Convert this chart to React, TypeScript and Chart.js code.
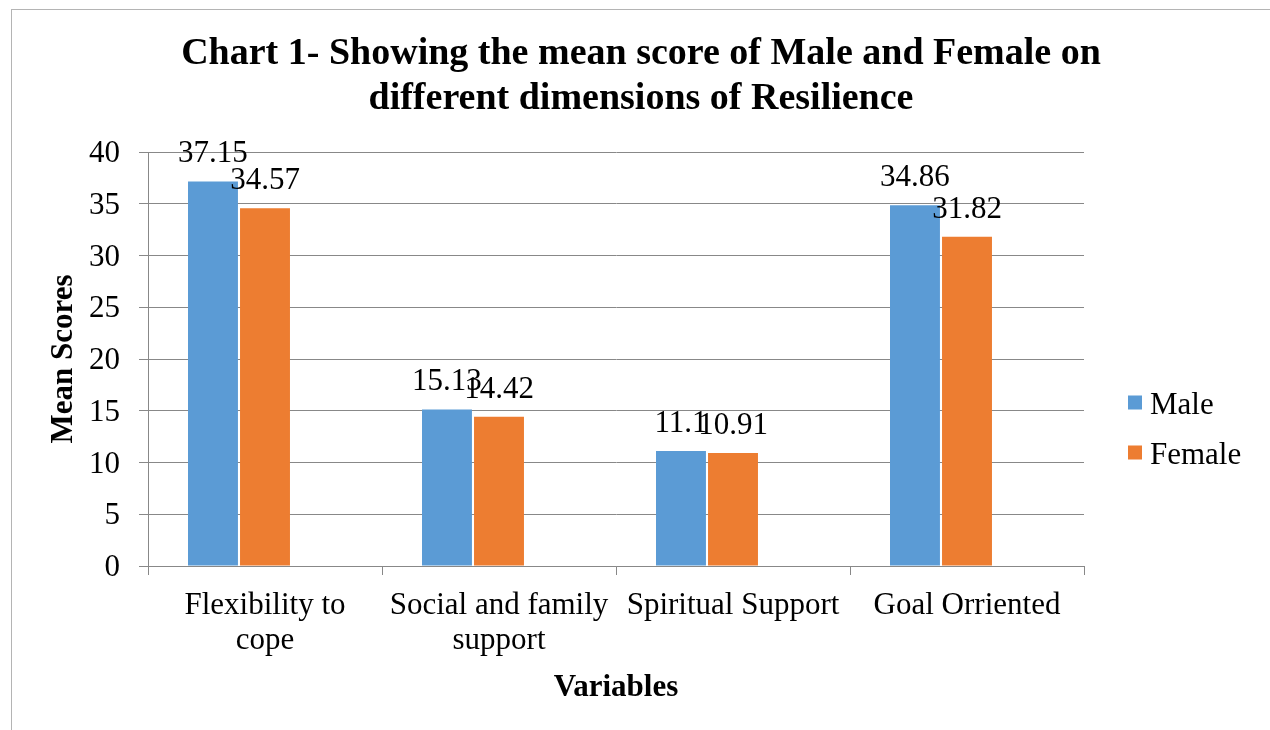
import React, { useEffect, useRef } from "react";
import { Chart, registerables } from "chart.js";

Chart.register(...registerables);

const SERIF = '"Liberation Serif", "Times New Roman", serif';

const titleLines = [
  "Chart 1- Showing the mean score of Male and Female on",
  "different dimensions of Resilience",
];
const categories: (string | string[])[] = [
  ["Flexibility to", "cope"],
  ["Social and family", "support"],
  "Spiritual Support",
  "Goal Orriented",
];
const seriesNames = ["Male", "Female"];
const maleValues = [37.15, 15.13, 11.1, 34.86];
const femaleValues = [34.57, 14.42, 10.91, 31.82];
const blankValues: (number | null)[] = [null, null, null, null];
const yMin = 0;
const yMax = 40;
const yStep = 5;
const xAxisTitle = "Variables";
const yAxisTitle = "Mean Scores";

const BLUE = "#5B9BD5";
const ORANGE = "#ED7D31";
const GRID = "#888888";

const overlayPlugin = {
  id: "overlay",
  afterDatasetsDraw(chart: any) {
    const ctx = chart.ctx;
    ctx.save();
    ctx.font = `31px ${SERIF}`;
    ctx.fillStyle = "#000";
    ctx.textAlign = "center";
    ctx.textBaseline = "alphabetic";
    [0, 1].forEach((di) => {
      const meta = chart.getDatasetMeta(di);
      const data = chart.data.datasets[di].data;
      meta.data.forEach((el: any, i: number) => {
        const v = data[i];
        if (v == null) return;
        ctx.fillText(String(v), el.x, el.y - 19);
      });
    });
    ctx.restore();
  },
  afterDraw(chart: any) {
    const ctx = chart.ctx;
    ctx.save();
    // title
    ctx.font = `bold 38px ${SERIF}`;
    ctx.fillStyle = "#000";
    ctx.textAlign = "center";
    ctx.textBaseline = "alphabetic";
    ctx.fillText(titleLines[0], 641, 64);
    ctx.fillText(titleLines[1], 641, 109);
    // legend
    ctx.font = `31px ${SERIF}`;
    ctx.textAlign = "left";
    const colors = [BLUE, ORANGE];
    seriesNames.forEach((name, i) => {
      const y = 402.5 + i * 50;
      ctx.fillStyle = colors[i];
      ctx.fillRect(1128, y - 7, 14, 14);
      ctx.fillStyle = "#000";
      ctx.fillText(name, 1150, y + 11);
    });
    ctx.restore();
  },
};

export default function App() {
  const canvasRef = useRef<HTMLCanvasElement | null>(null);

  useEffect(() => {
    const canvas = canvasRef.current;
    if (!canvas) return;
    const chart = new Chart(canvas, {
      type: "bar",
      data: {
        labels: categories,
        datasets: [
          {
            label: seriesNames[0],
            data: maleValues,
            backgroundColor: BLUE,
            categoryPercentage: 0.667,
            barPercentage: 0.96,
          },
          {
            label: seriesNames[1],
            data: femaleValues,
            backgroundColor: ORANGE,
            categoryPercentage: 0.667,
            barPercentage: 0.96,
          },
          {
            label: "",
            data: blankValues,
            backgroundColor: "rgba(0,0,0,0)",
            categoryPercentage: 0.667,
            barPercentage: 0.96,
          },
        ],
      },
      options: {
        responsive: false,
        animation: false,
        events: [],
        layout: { padding: { left: 12, right: 186, top: 152, bottom: 0 } },
        plugins: {
          legend: { display: false },
          title: { display: false },
          tooltip: { enabled: false },
        },
        scales: {
          x: {
            grid: {
              display: true,
              drawOnChartArea: false,
              drawTicks: true,
              tickLength: 9,
              color: GRID,
              offset: true,
            },
            border: { display: true, color: GRID },
            ticks: {
              color: "#000",
              font: { family: SERIF, size: 31, lineHeight: 1.13 },
              padding: 13,
              maxRotation: 0,
              autoSkip: false,
            },
            title: {
              display: true,
              text: xAxisTitle,
              color: "#000",
              font: { family: SERIF, size: 31, weight: "bold", lineHeight: 1.2 },
              padding: { top: 0, bottom: 23 },
            },
            afterFit(scale: any) {
              scale.height = 164;
            },
          },
          y: {
            min: yMin,
            max: yMax,
            ticks: {
              stepSize: yStep,
              color: "#000",
              font: { family: SERIF, size: 31 },
              padding: 19,
              labelOffset: 2,
            },
            grid: {
              color: GRID,
              tickLength: 9,
              drawTicks: true,
            },
            border: { display: true, color: GRID },
            title: {
              display: true,
              text: yAxisTitle,
              color: "#000",
              font: { family: SERIF, size: 31, weight: "bold", lineHeight: 1.2 },
              padding: { top: 33, bottom: 0 },
            },
            afterFit(scale: any) {
              scale.width = 136;
            },
          },
        },
      },
      plugins: [overlayPlugin],
    });
    return () => chart.destroy();
  }, []);

  return (
    <div
      style={{
        position: "fixed",
        left: 0,
        top: 0,
        width: 1270,
        height: 730,
        background: "#fff",
      }}
    >
      <div
        style={{
          position: "absolute",
          left: 11,
          top: 9,
          right: 0,
          bottom: 0,
          borderLeft: "1px solid #b4b4b4",
          borderTop: "1px solid #b4b4b4",
        }}
      />
      <canvas
        ref={canvasRef}
        width={1270}
        height={730}
        style={{ position: "absolute", left: 0, top: 0, width: 1270, height: 730 }}
      />
    </div>
  );
}
